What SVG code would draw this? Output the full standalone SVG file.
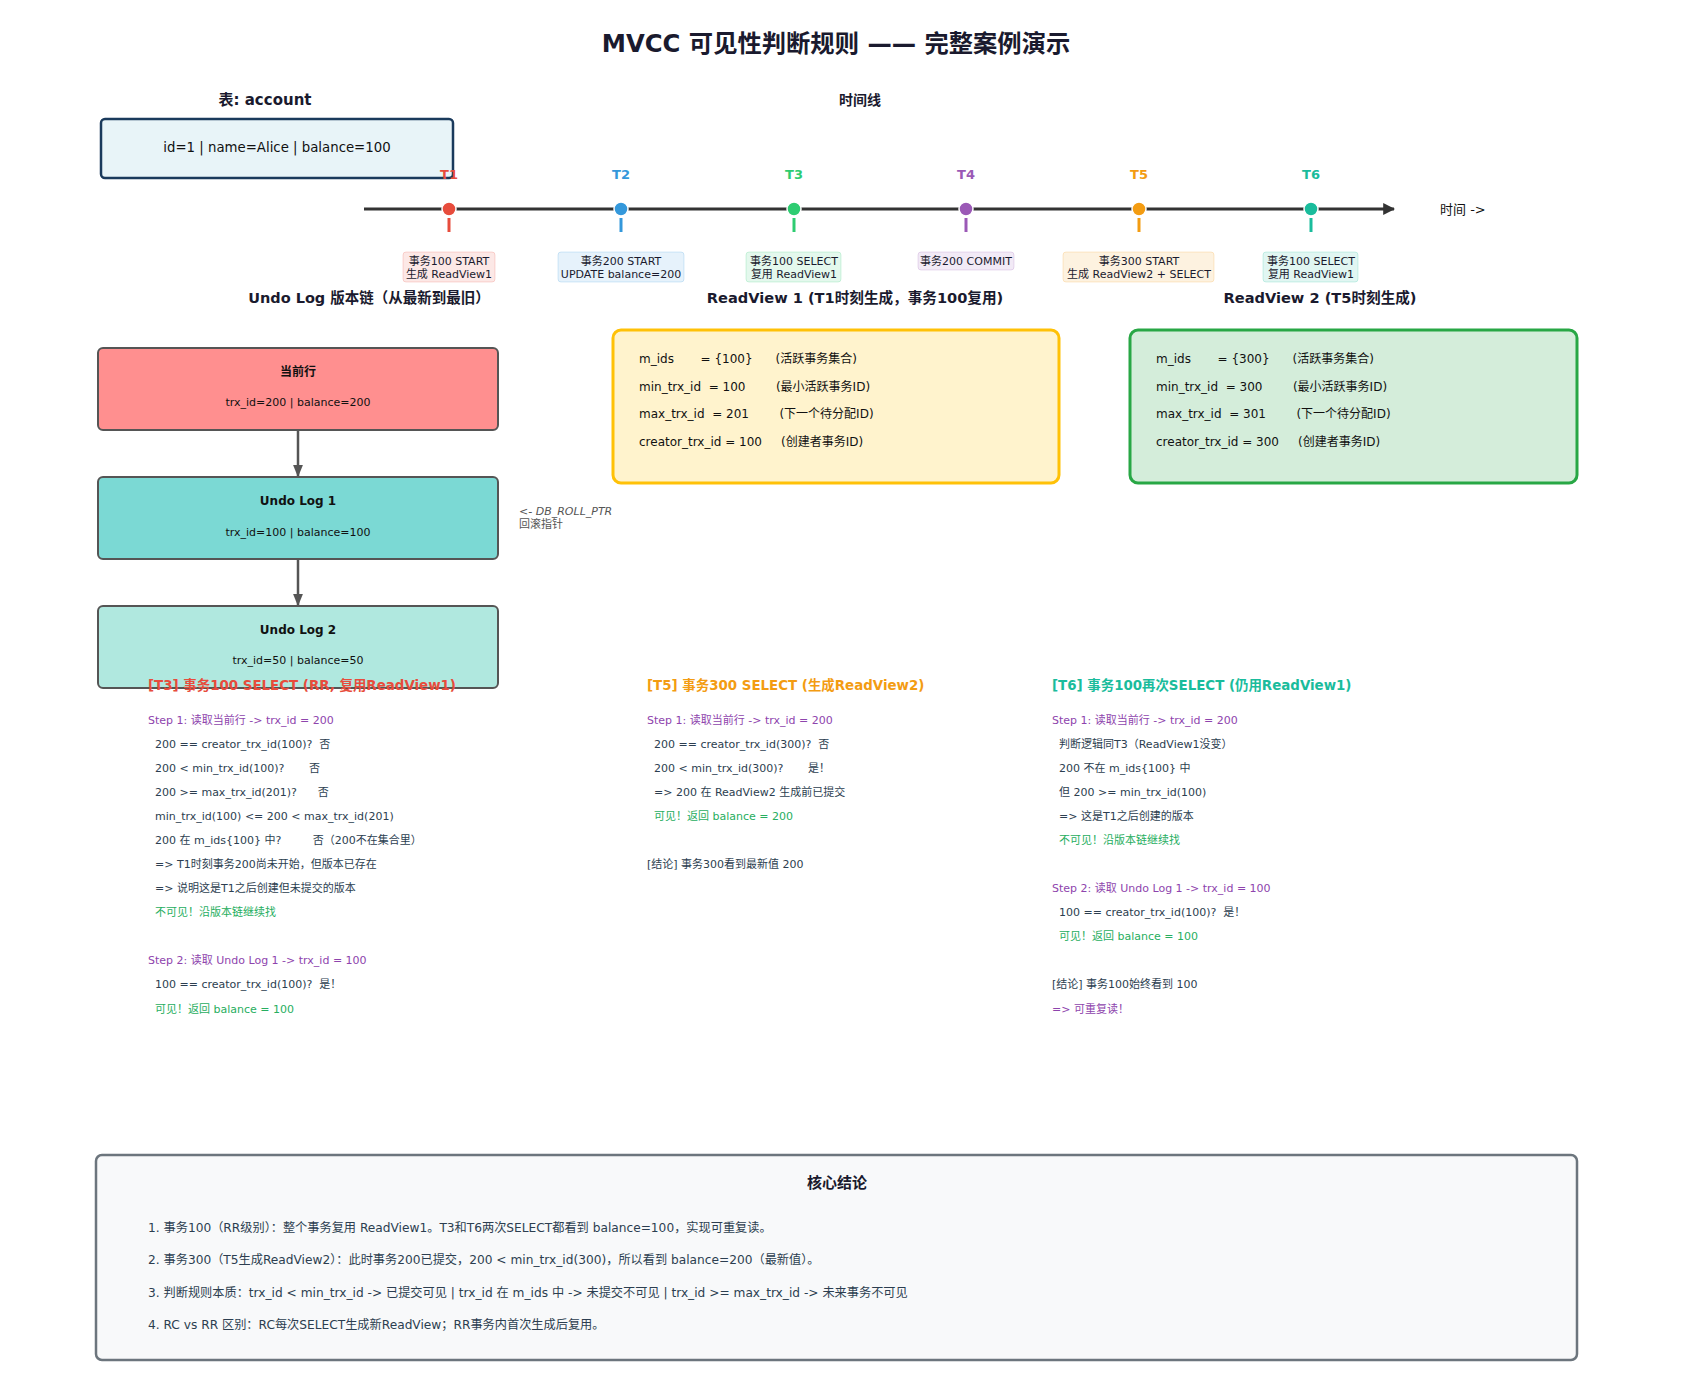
<svg xmlns="http://www.w3.org/2000/svg" width="1695" height="1379" viewBox="0 0 1695 1379">
<defs>
<marker id="ah" viewBox="0 0 10 10" refX="9" refY="5" markerWidth="5" markerHeight="5" orient="auto"><path d="M0,1 L10,5 L0,9 z" fill="#555"/></marker>
<marker id="ahT" viewBox="0 0 10 10" refX="9" refY="5" markerWidth="4" markerHeight="4" orient="auto"><path d="M0,0 L10,5 L0,10 z" fill="#333"/></marker>
<style>
text{font-family:"DejaVu Sans","Noto Sans CJK SC",sans-serif;white-space:pre}
.h{font-weight:bold;fill:#1a1a2e}
.tl{font-size:11px;fill:#1a1a2e;text-anchor:middle}
.tk{font-size:13px;font-weight:bold;text-anchor:middle}
.ub{stroke:#555;stroke-width:2}
.ut{font-size:12px;font-weight:bold;fill:#111;text-anchor:middle}
.us{font-size:11px;fill:#111;text-anchor:middle}
.rv{font-size:12px;fill:#111}
.c{font-size:11px;fill:#2c3e50}
.p{fill:#8e44ad}
.g{fill:#27ae60}
.ct{font-size:13.4px;font-weight:bold}
.bl{font-size:12.2px;fill:#2c3e50}
</style>
</defs>
<rect width="1695" height="1379" fill="#fff"/>
<text x="836" y="52" class="h" font-size="24.3" text-anchor="middle">MVCC 可见性判断规则 —— 完整案例演示</text>

<g id="account">
<text x="265" y="105" class="h" font-size="15" text-anchor="middle">表: account</text>
<rect x="101" y="119" width="352" height="59" rx="4" fill="#e8f4f8" stroke="#1a3a5c" stroke-width="2.5"/>
<text x="277" y="152" font-size="13.3" fill="#111" text-anchor="middle">id=1 | name=Alice | balance=100</text>
</g>

<g id="timeline">
<text x="860" y="105" class="h" font-size="14" text-anchor="middle">时间线</text>
<line x1="364" y1="209" x2="1394" y2="209" stroke="#333" stroke-width="3" marker-end="url(#ahT)"/>
<text x="1440" y="214" font-size="13" fill="#111">时间 -&gt;</text>
</g>

<g id="t1">
<text x="449" y="179" class="tk" fill="#e74c3c">T1</text>
<circle cx="449" cy="209" r="7" fill="#e74c3c" stroke="#fff" stroke-width="1.5"/>
<line x1="449" y1="218" x2="449" y2="232" stroke="#e74c3c" stroke-width="3"/>
<rect x="403" y="252" width="92" height="30" rx="3" fill="#e74c3c" fill-opacity="0.13" stroke="#e74c3c" stroke-opacity="0.2"/>
<text x="449" y="265" class="tl">事务100 START</text>
<text x="449" y="278" class="tl">生成 ReadView1</text>
</g>
<g id="t2">
<text x="621" y="179" class="tk" fill="#3498db">T2</text>
<circle cx="621" cy="209" r="7" fill="#3498db" stroke="#fff" stroke-width="1.5"/>
<line x1="621" y1="218" x2="621" y2="232" stroke="#3498db" stroke-width="3"/>
<rect x="558" y="252" width="126" height="30" rx="3" fill="#3498db" fill-opacity="0.12" stroke="#3498db" stroke-opacity="0.2"/>
<text x="621" y="265" class="tl">事务200 START</text>
<text x="621" y="278" class="tl">UPDATE balance=200</text>
</g>
<g id="t3">
<text x="794" y="179" class="tk" fill="#2ecc71">T3</text>
<circle cx="794" cy="209" r="7" fill="#2ecc71" stroke="#fff" stroke-width="1.5"/>
<line x1="794" y1="218" x2="794" y2="232" stroke="#2ecc71" stroke-width="3"/>
<rect x="746" y="252" width="95" height="30" rx="3" fill="#2ecc71" fill-opacity="0.13" stroke="#2ecc71" stroke-opacity="0.2"/>
<text x="794" y="265" class="tl">事务100 SELECT</text>
<text x="794" y="278" class="tl">复用 ReadView1</text>
</g>
<g id="t4">
<text x="966" y="179" class="tk" fill="#9b59b6">T4</text>
<circle cx="966" cy="209" r="7" fill="#9b59b6" stroke="#fff" stroke-width="1.5"/>
<line x1="966" y1="218" x2="966" y2="232" stroke="#9b59b6" stroke-width="3"/>
<rect x="918" y="252" width="96" height="18" rx="3" fill="#9b59b6" fill-opacity="0.13" stroke="#9b59b6" stroke-opacity="0.2"/>
<text x="966" y="265" class="tl">事务200 COMMIT</text>
</g>
<g id="t5">
<text x="1139" y="179" class="tk" fill="#f39c12">T5</text>
<circle cx="1139" cy="209" r="7" fill="#f39c12" stroke="#fff" stroke-width="1.5"/>
<line x1="1139" y1="218" x2="1139" y2="232" stroke="#f39c12" stroke-width="3"/>
<rect x="1063" y="252" width="151" height="30" rx="3" fill="#f39c12" fill-opacity="0.13" stroke="#f39c12" stroke-opacity="0.2"/>
<text x="1139" y="265" class="tl">事务300 START</text>
<text x="1139" y="278" class="tl">生成 ReadView2 + SELECT</text>
</g>
<g id="t6">
<text x="1311" y="179" class="tk" fill="#1abc9c">T6</text>
<circle cx="1311" cy="209" r="7" fill="#1abc9c" stroke="#fff" stroke-width="1.5"/>
<line x1="1311" y1="218" x2="1311" y2="232" stroke="#1abc9c" stroke-width="3"/>
<rect x="1263" y="252" width="95" height="30" rx="3" fill="#1abc9c" fill-opacity="0.13" stroke="#1abc9c" stroke-opacity="0.2"/>
<text x="1311" y="265" class="tl">事务100 SELECT</text>
<text x="1311" y="278" class="tl">复用 ReadView1</text>
</g>

<text x="369" y="303" class="h" font-size="14.5" text-anchor="middle">Undo Log 版本链（从最新到最旧）</text>
<text x="855" y="303" class="h" font-size="14.6" text-anchor="middle">ReadView 1 (T1时刻生成，事务100复用)</text>
<text x="1320" y="303" class="h" font-size="14.6" text-anchor="middle">ReadView 2 (T5时刻生成)</text>

<g id="connectors">
<line x1="298" y1="429" x2="298" y2="476" stroke="#555" stroke-width="2.5" marker-end="url(#ah)"/>
<line x1="298" y1="558" x2="298" y2="605" stroke="#555" stroke-width="2.5" marker-end="url(#ah)"/>
</g>

<g id="current-row">
<rect x="98" y="348" width="400" height="82" rx="5" fill="#ff8f8f" class="ub"/>
<text x="298" y="376" class="ut">当前行</text>
<text x="298" y="406" class="us">trx_id=200 | balance=200</text>
</g>
<g id="undo1">
<rect x="98" y="477" width="400" height="82" rx="5" fill="#7bd9d4" class="ub"/>
<text x="298" y="505" class="ut">Undo Log 1</text>
<text x="298" y="536" class="us">trx_id=100 | balance=100</text>
</g>
<g id="undo2">
<rect x="98" y="606" width="400" height="82" rx="5" fill="#b0e8df" class="ub"/>
<text x="298" y="634" class="ut">Undo Log 2</text>
<text x="298" y="664" class="us">trx_id=50 | balance=50</text>
</g>
<g id="roll-ptr">
<text x="519" y="515" font-size="11" font-style="italic" fill="#555">&lt;- DB_ROLL_PTR</text>
<text x="519" y="528" font-size="11" fill="#555">回滚指针</text>
</g>

<g id="readview1">
<rect x="613" y="330" width="446" height="153" rx="8" fill="#fff3cd" stroke="#ffc107" stroke-width="3"/>
<text x="639" y="363" class="rv" xml:space="preserve">m_ids       = {100}      (活跃事务集合)</text>
<text x="639" y="391" class="rv" xml:space="preserve">min_trx_id  = 100        (最小活跃事务ID)</text>
<text x="639" y="418" class="rv" xml:space="preserve">max_trx_id  = 201        (下一个待分配ID)</text>
<text x="639" y="446" class="rv" xml:space="preserve">creator_trx_id = 100     (创建者事务ID)</text>
</g>
<g id="readview2">
<rect x="1130" y="330" width="447" height="153" rx="8" fill="#d4edda" stroke="#28a745" stroke-width="3"/>
<text x="1156" y="363" class="rv" xml:space="preserve">m_ids       = {300}      (活跃事务集合)</text>
<text x="1156" y="391" class="rv" xml:space="preserve">min_trx_id  = 300        (最小活跃事务ID)</text>
<text x="1156" y="418" class="rv" xml:space="preserve">max_trx_id  = 301        (下一个待分配ID)</text>
<text x="1156" y="446" class="rv" xml:space="preserve">creator_trx_id = 300     (创建者事务ID)</text>
</g>

<g id="case-t3">
<text x="148" y="690" class="ct" fill="#e74c3c">[T3] 事务100 SELECT (RR, 复用ReadView1)</text>
<text x="148" y="724" class="c p" xml:space="preserve">Step 1: 读取当前行 -&gt; trx_id = 200</text>
<text x="148" y="748" class="c" xml:space="preserve">  200 == creator_trx_id(100)?  否</text>
<text x="148" y="772" class="c" xml:space="preserve">  200 &lt; min_trx_id(100)?       否</text>
<text x="148" y="796" class="c" xml:space="preserve">  200 &gt;= max_trx_id(201)?      否</text>
<text x="148" y="820" class="c" xml:space="preserve">  min_trx_id(100) &lt;= 200 &lt; max_trx_id(201)</text>
<text x="148" y="844" class="c" xml:space="preserve">  200 在 m_ids{100} 中?         否（200不在集合里）</text>
<text x="148" y="868" class="c" xml:space="preserve">  =&gt; T1时刻事务200尚未开始，但版本已存在</text>
<text x="148" y="892" class="c" xml:space="preserve">  =&gt; 说明这是T1之后创建但未提交的版本</text>
<text x="148" y="916" class="c g" xml:space="preserve">  不可见！沿版本链继续找</text>
<text x="148" y="964" class="c p" xml:space="preserve">Step 2: 读取 Undo Log 1 -&gt; trx_id = 100</text>
<text x="148" y="988" class="c" xml:space="preserve">  100 == creator_trx_id(100)?  是！</text>
<text x="148" y="1013" class="c g" xml:space="preserve">  可见！返回 balance = 100</text>
</g>

<g id="case-t5">
<text x="647" y="690" class="ct" fill="#f39c12">[T5] 事务300 SELECT (生成ReadView2)</text>
<text x="647" y="724" class="c p" xml:space="preserve">Step 1: 读取当前行 -&gt; trx_id = 200</text>
<text x="647" y="748" class="c" xml:space="preserve">  200 == creator_trx_id(300)?  否</text>
<text x="647" y="772" class="c" xml:space="preserve">  200 &lt; min_trx_id(300)?       是！</text>
<text x="647" y="796" class="c" xml:space="preserve">  =&gt; 200 在 ReadView2 生成前已提交</text>
<text x="647" y="820" class="c g" xml:space="preserve">  可见！返回 balance = 200</text>
<text x="647" y="868" class="c" xml:space="preserve">[结论] 事务300看到最新值 200</text>
</g>

<g id="case-t6">
<text x="1052" y="690" class="ct" fill="#1abc9c">[T6] 事务100再次SELECT (仍用ReadView1)</text>
<text x="1052" y="724" class="c p" xml:space="preserve">Step 1: 读取当前行 -&gt; trx_id = 200</text>
<text x="1052" y="748" class="c" xml:space="preserve">  判断逻辑同T3（ReadView1没变）</text>
<text x="1052" y="772" class="c" xml:space="preserve">  200 不在 m_ids{100} 中</text>
<text x="1052" y="796" class="c" xml:space="preserve">  但 200 &gt;= min_trx_id(100)</text>
<text x="1052" y="820" class="c" xml:space="preserve">  =&gt; 这是T1之后创建的版本</text>
<text x="1052" y="844" class="c g" xml:space="preserve">  不可见！沿版本链继续找</text>
<text x="1052" y="892" class="c p" xml:space="preserve">Step 2: 读取 Undo Log 1 -&gt; trx_id = 100</text>
<text x="1052" y="916" class="c" xml:space="preserve">  100 == creator_trx_id(100)?  是！</text>
<text x="1052" y="940" class="c g" xml:space="preserve">  可见！返回 balance = 100</text>
<text x="1052" y="988" class="c" xml:space="preserve">[结论] 事务100始终看到 100</text>
<text x="1052" y="1013" class="c p" xml:space="preserve">=&gt; 可重复读！</text>
</g>

<g id="conclusion">
<rect x="96" y="1155" width="1481" height="205" rx="6" fill="#f8f9fa" stroke="#6c757d" stroke-width="2.5"/>
<text x="837" y="1188" class="h" font-size="15" text-anchor="middle">核心结论</text>
<text x="148" y="1232" class="bl">1. 事务100（RR级别）：整个事务复用 ReadView1。T3和T6两次SELECT都看到 balance=100，实现可重复读。</text>
<text x="148" y="1264" class="bl">2. 事务300（T5生成ReadView2）：此时事务200已提交，200 &lt; min_trx_id(300)，所以看到 balance=200（最新值）。</text>
<text x="148" y="1297" class="bl">3. 判断规则本质：trx_id &lt; min_trx_id -&gt; 已提交可见 | trx_id 在 m_ids 中 -&gt; 未提交不可见 | trx_id &gt;= max_trx_id -&gt; 未来事务不可见</text>
<text x="148" y="1329" class="bl">4. RC vs RR 区别：RC每次SELECT生成新ReadView；RR事务内首次生成后复用。</text>
</g>
</svg>
